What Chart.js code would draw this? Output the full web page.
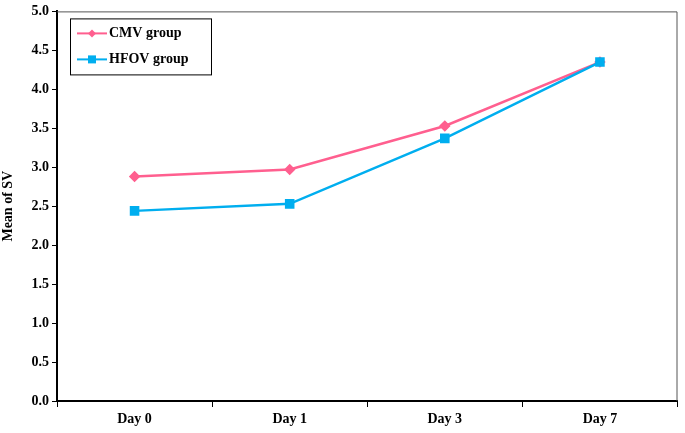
<!DOCTYPE html>
<html>
<head>
<meta charset="utf-8">
<script src="https://cdn.jsdelivr.net/npm/chart.js@4"></script>
<style>
  html, body { margin: 0; padding: 0; background: #fff; }
  #wrap { width: 685px; height: 433px; }
</style>
</head>
<body>
<div id="wrap"><canvas id="svChart"></canvas></div>
<script>
// Data
const categories = ['Day 0', 'Day 1', 'Day 3', 'Day 7'];
const cmvValues = [2.88, 2.97, 3.53, 4.35];
const hfovValues = [2.44, 2.53, 3.37, 4.35];
const seriesNames = ['CMV group', 'HFOV group'];
const yTicks = [0, 0.5, 1, 1.5, 2, 2.5, 3, 3.5, 4, 4.5, 5];

const fontFamily = '"Liberation Serif", "Times New Roman", serif';

// Legend in a box inside the plot, top-left
const boxLegend = {
    id: 'boxLegend',
    afterDraw(chart) {
        const ctx = chart.ctx;
        const area = chart.chartArea;
        const x = area.left + 13, y = area.top + 7;
        const w = 141, h = 56;
        ctx.save();
        ctx.strokeStyle = '#000';
        ctx.lineWidth = 1;
        ctx.fillStyle = '#fff';
        ctx.fillRect(x, y, w, h);
        ctx.strokeRect(x + 0.5, y + 0.5, w, h);
        ctx.font = 'bold 14px ' + fontFamily;
        ctx.textBaseline = 'middle';
        chart.data.datasets.forEach((ds, i) => {
            const ly = y + 15 + i * 26;
            ctx.strokeStyle = ds.borderColor;
            ctx.lineWidth = 2;
            ctx.beginPath();
            ctx.moveTo(x + 7, ly);
            ctx.lineTo(x + 37, ly);
            ctx.stroke();
            ctx.fillStyle = ds.borderColor;
            if (ds.pointStyle === 'rect') {
                ctx.fillRect(x + 18, ly - 4, 8, 8);
            } else {
                ctx.beginPath();
                ctx.moveTo(x + 22, ly - 4);
                ctx.lineTo(x + 26, ly);
                ctx.lineTo(x + 22, ly + 4);
                ctx.lineTo(x + 18, ly);
                ctx.closePath();
                ctx.fill();
            }
            ctx.fillStyle = '#000';
            ctx.fillText(ds.label, x + 39, ly);
        });
        ctx.restore();
    }
};

// Thin frame on top and right of the plot
const frame = {
    id: 'frame',
    beforeDatasetsDraw(chart) {
        const ctx = chart.ctx;
        const a = chart.chartArea;
        ctx.save();
        ctx.strokeStyle = '#555';
        ctx.lineWidth = 1;
        ctx.beginPath();
        ctx.moveTo(a.left, a.top + 0.5);
        ctx.lineTo(a.right - 0.5, a.top + 0.5);
        ctx.lineTo(a.right - 0.5, a.bottom);
        ctx.stroke();
        ctx.restore();
    }
};

new Chart(document.getElementById('svChart'), {
    type: 'line',
    data: {
        labels: categories,
        datasets: [
            {
                label: seriesNames[0],
                data: cmvValues,
                borderColor: '#FF5F8F',
                backgroundColor: '#FF5F8F',
                borderWidth: 2.5,
                pointStyle: 'rectRot',
                pointRadius: 4,
                tension: 0,
                order: 2
            },
            {
                label: seriesNames[1],
                data: hfovValues,
                borderColor: '#00AEEF',
                backgroundColor: '#00AEEF',
                borderWidth: 2.5,
                pointStyle: 'rect',
                pointRadius: 5,
                tension: 0,
                order: 1
            }
        ]
    },
    options: {
        responsive: true,
        maintainAspectRatio: false,
        animation: false,
        layout: { padding: { top: 10, right: 2, left: 0, bottom: 0 } },
        plugins: {
            legend: { display: false },
            tooltip: { enabled: false }
        },
        scales: {
            x: {
                offset: true,
                grid: {
                    offset: true,
                    drawOnChartArea: false,
                    color: '#000',
                    tickLength: 6
                },
                border: { color: '#000', width: 2 },
                ticks: {
                    color: '#000',
                    padding: 4,
                    font: { family: fontFamily, weight: 'bold', size: 14 }
                },
                afterFit(scale) { scale.height = 32; }
            },
            y: {
                min: 0,
                max: 5,
                afterBuildTicks(scale) {
                    scale.ticks = yTicks.map(v => ({ value: v }));
                },
                grid: {
                    drawOnChartArea: false,
                    color: '#000',
                    tickLength: 5
                },
                border: { color: '#000', width: 2 },
                ticks: {
                    color: '#000',
                    padding: 3,
                    font: { family: fontFamily, weight: 'bold', size: 14 },
                    callback: v => Number(v).toFixed(1)
                },
                title: {
                    display: true,
                    text: 'Mean of SV',
                    color: '#000',
                    padding: { top: 0, bottom: 0 },
                    font: { family: fontFamily, weight: 'bold', size: 14 }
                },
                afterFit(scale) { scale.width = 57; }
            }
        }
    },
    plugins: [frame, boxLegend]
});
</script>
</body>
</html>
